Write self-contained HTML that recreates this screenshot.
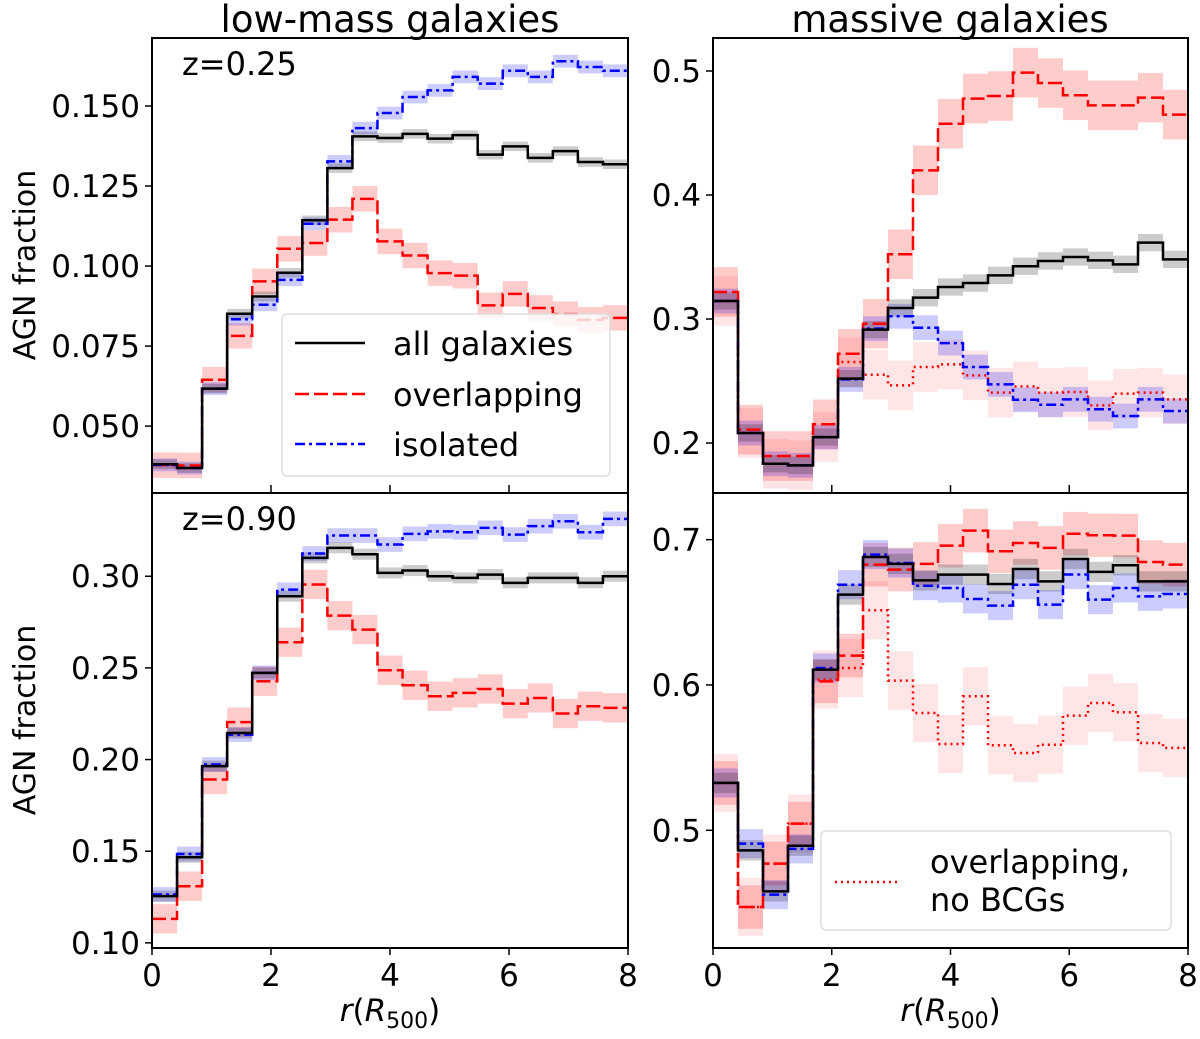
<!DOCTYPE html>
<html><head><meta charset="utf-8"><style>
body{margin:0;background:#fff;}
svg text{font-family:"DejaVu Sans","Liberation Sans",sans-serif;fill:#000;}
</style></head><body>
<svg id="fig" width="1200" height="1034" viewBox="0 0 1200 1034" xmlns="http://www.w3.org/2000/svg">
<text x="390" y="32" font-size="37" text-anchor="middle">low-mass galaxies</text>
<text x="950" y="32" font-size="37" text-anchor="middle">massive galaxies</text>
<text transform="translate(35,265) rotate(-90)" font-size="30" text-anchor="middle">AGN fraction</text>
<text transform="translate(35,720) rotate(-90)" font-size="30" text-anchor="middle">AGN fraction</text>
<g id="panels"></g>
<g>
<rect x="282" y="314" width="328" height="162" rx="5" fill="#fff" fill-opacity="0.8" stroke="#ddd" stroke-width="1.5"/>
<line x1="295" y1="343" x2="365" y2="343" stroke="#000" stroke-width="2.5"/>
<text x="393" y="355" font-size="32">all galaxies</text>
<line x1="295" y1="394" x2="365" y2="394" stroke="#f00" stroke-width="2.5" stroke-dasharray="14,5"/>
<text x="393" y="406" font-size="32">overlapping</text>
<line x1="295" y1="444" x2="365" y2="444" stroke="#00f" stroke-width="2.5" stroke-dasharray="10,4,3,4"/>
<text x="393" y="456" font-size="32">isolated</text>
</g>
<g>
<rect x="821" y="831" width="350" height="99" rx="5" fill="#fff" fill-opacity="0.8" stroke="#ddd" stroke-width="1.5"/>
<line x1="835" y1="882" x2="900" y2="882" stroke="#f00" stroke-width="2.5" stroke-dasharray="2,4"/>
<text x="930" y="873" font-size="32">overlapping,</text>
<text x="930" y="911" font-size="32">no BCGs</text>
</g>
</svg>
<script>
const xTicks=[0,2,4,6,8];
const tlAll=[0.0381,0.0369,0.0617,0.0851,0.0905,0.0979,0.1143,0.1306,0.1405,0.1400,0.1413,0.1398,0.1409,0.1348,0.1374,0.1338,0.1359,0.1325,0.1318];
const tlIso=[0.0379,0.0369,0.0617,0.0834,0.0879,0.0957,0.1132,0.1327,0.1431,0.1478,0.1528,0.1549,0.1591,0.1570,0.1610,0.1591,0.1640,0.1622,0.1610];
const tlOver=[0.0378,0.0377,0.0645,0.0782,0.0952,0.1054,0.1072,0.1145,0.1210,0.1077,0.1033,0.0978,0.0970,0.0877,0.0913,0.0869,0.0850,0.0832,0.0838];
const trAll=[0.3145,0.2081,0.1833,0.1820,0.2048,0.2519,0.2914,0.3089,0.3172,0.3258,0.3290,0.3352,0.3425,0.3468,0.3500,0.3473,0.3441,0.3616,0.3481];
const trOver=[0.3218,0.2108,0.1895,0.1895,0.2151,0.2720,0.2962,0.3522,0.4199,0.4575,0.4777,0.4798,0.4987,0.4903,0.4804,0.4723,0.4723,0.4785,0.4648];
const trIso=[0.3145,0.2081,0.1833,0.1820,0.2048,0.2513,0.2922,0.3022,0.2930,0.2806,0.2613,0.2473,0.2349,0.2309,0.2352,0.2272,0.2218,0.2352,0.2258];
const trNoBcg=[0.3145,0.2081,0.1833,0.1820,0.2048,0.2653,0.2551,0.2465,0.2613,0.2634,0.2546,0.2406,0.2457,0.2406,0.2411,0.2304,0.2398,0.2406,0.2352];
const blAll=[0.1255,0.1467,0.1964,0.2145,0.2473,0.2891,0.3100,0.3155,0.3120,0.3018,0.3031,0.3000,0.2991,0.3009,0.2964,0.2991,0.2991,0.2964,0.3000];
const blIso=[0.1264,0.1485,0.1973,0.2136,0.2473,0.2927,0.3124,0.3222,0.3222,0.3173,0.3231,0.3245,0.3240,0.3264,0.3227,0.3273,0.3300,0.3240,0.3313];
const blOver=[0.1131,0.1309,0.1891,0.2204,0.2427,0.2640,0.2955,0.2785,0.2709,0.2487,0.2405,0.2345,0.2364,0.2385,0.2305,0.2336,0.2251,0.2291,0.2282];
const brAll=[0.5326,0.4862,0.4580,0.4894,0.6106,0.6622,0.6881,0.6833,0.6720,0.6759,0.6759,0.6695,0.6798,0.6713,0.6867,0.6778,0.6824,0.6713,0.6713];
const brIso=[0.5326,0.4908,0.4557,0.4872,0.6117,0.6690,0.6897,0.6839,0.6683,0.6667,0.6592,0.6546,0.6690,0.6553,0.6760,0.6587,0.6667,0.6610,0.6626];
const brOver=[0.5326,0.4472,0.4771,0.5046,0.6025,0.6202,0.6828,0.6794,0.6833,0.6959,0.7062,0.6920,0.6977,0.6943,0.7041,0.7030,0.7028,0.6846,0.6828];
const brNoBcg=[0.5326,0.4472,0.4771,0.5046,0.6037,0.6117,0.6514,0.6030,0.5807,0.5594,0.5922,0.5585,0.5532,0.5589,0.5789,0.5876,0.5812,0.5601,0.5567];
const tlTicks=[0.050,0.075,0.100,0.125,0.150];
const trTicks=[0.2,0.3,0.4,0.5];
const blTicks=[0.10,0.15,0.20,0.25,0.30];
const brTicks=[0.5,0.6,0.7];

const NS='http://www.w3.org/2000/svg';
const root=document.getElementById('panels');
function el(tag,attrs,parent){const e=document.createElementNS(NS,tag);for(const k in attrs)e.setAttribute(k,attrs[k]);(parent||root).appendChild(e);return e;}

const STY={
 all:{c:'#000',dash:'',band:'#000',op:0.2},
 over:{c:'#f00',dash:'14,5',band:'#f00',op:0.2},
 iso:{c:'#00f',dash:'10,4,3,4',band:'#00f',op:0.2},
 nobcg:{c:'#f00',dash:'2,4',band:'#f00',op:0.1}
};

function panel(name,x0,x1,y0,y1,vTop,vBot,ticks,fmt,series,showX,label){
  const g=el('g',{});
  
  
  const sx=v=>x0+(v/8)*(x1-x0);
  const sy=v=>y0+(vTop-v)/(vTop-vBot)*(y1-y0);
  const clipId=name+'-clip';
  const cp=el('clipPath',{id:clipId},g);el('rect',{x:x0,y:y0,width:x1-x0,height:y1-y0},cp);
  const plot=el('g',{'clip-path':'url(#'+clipId+')'},g);
  series.forEach(s=>{
    const st=STY[s.k];const n=s.v.length;const w=8/n;
    s.v.forEach((v,i)=>{
      const r=el('rect',{x:sx(i*w),y:sy(v+s.e),width:sx((i+1)*w)-sx(i*w),height:sy(v-s.e)-sy(v+s.e),fill:st.band,'fill-opacity':st.op},plot);
      
      
    });
  });
  series.forEach(s=>{
    const st=STY[s.k];const n=s.v.length;const w=8/n;
    let d='';
    s.v.forEach((v,i)=>{d+=(i?'L':'M')+sx(i*w)+','+sy(v)+'L'+sx((i+1)*w)+','+sy(v);});
    const p=el('path',{d:d,fill:'none',stroke:st.c,'stroke-width':2.5,'stroke-dasharray':st.dash},plot);
    
    
  });
  el('rect',{x:x0,y:y0,width:x1-x0,height:y1-y0,fill:'none',stroke:'#000','stroke-width':2},g);
  ticks.forEach(t=>{
    const y=sy(t);
    el('line',{x1:x0-7,y1:y,x2:x0,y2:y,stroke:'#000','stroke-width':1.5},g);
    const tx=el('text',{x:x0-12,y:y+11,'font-size':31,'text-anchor':'end'},g);
    tx.textContent=t.toFixed(fmt);
    
    
  });
  xTicks.forEach(t=>{
    const x=sx(t);
    if(showX){
      el('line',{x1:x,y1:y1,x2:x,y2:y1+7,stroke:'#000','stroke-width':1.5},g);
      const tx=el('text',{x:x,y:y1+38,'font-size':31,'text-anchor':'middle'},g);
      tx.textContent=t;
      
      
    } else if(t>0&&t<8){
      el('line',{x1:x,y1:y1-8,x2:x,y2:y1,stroke:'#000','stroke-width':1.5},g);
    }
  });
  if(showX){
    const xl=el('text',{x:(x0+x1)/2,y:y1+73,'font-size':31,'text-anchor':'middle'},g);
    xl.innerHTML='<tspan font-style="italic">r</tspan>(<tspan font-style="italic">R</tspan><tspan font-size="22" dy="7">500</tspan><tspan dy="-7">)</tspan>';
    
    
  }
  if(label){
    const lt=el('text',{x:x0+30,y:y0+37,'font-size':32},g);
    lt.textContent=label;
    
    
  }
}
panel('panel-low-mass-z025',152,628,38,493,0.17125,0.0291,tlTicks,3,
 [{k:'over',v:tlOver,e:0.004},{k:'iso',v:tlIso,e:0.002},{k:'all',v:tlAll,e:0.0015}],false,'z=0.25');
panel('panel-massive-z025',713,1188,38,493,0.5266,0.1597,trTicks,1,
 [{k:'nobcg',v:trNoBcg,e:0.02},{k:'over',v:trOver,e:0.02},{k:'iso',v:trIso,e:0.01},{k:'all',v:trAll,e:0.007}],false,null);
panel('panel-low-mass-z090',152,628,493,948,0.3454,0.0972,blTicks,2,
 [{k:'over',v:blOver,e:0.008},{k:'iso',v:blIso,e:0.004},{k:'all',v:blAll,e:0.003}],true,'z=0.90');
panel('panel-massive-z090',713,1188,493,948,0.7321,0.4190,brTicks,1,
 [{k:'nobcg',v:brNoBcg,e:0.02},{k:'over',v:brOver,e:0.015},{k:'iso',v:brIso,e:0.01},{k:'all',v:brAll,e:0.007}],true,null);
</script>
</body></html>
